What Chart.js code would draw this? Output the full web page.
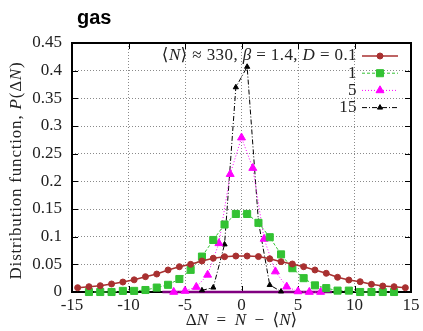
<!DOCTYPE html>
<html><head><meta charset="utf-8">
<script src="https://cdn.jsdelivr.net/npm/chart.js@4"></script>
<style>html,body{margin:0;padding:0;background:#fff}</style>
</head><body><canvas id="c" width="423" height="331"></canvas>
<script>
const SERIF = '"Liberation Serif","DejaVu Serif","DejaVu Sans",serif';
const chartTitle = 'gas';
const xTitle = 'Δ*N*\u2002=\u2002*N*\u2002−\u2002⟨*N*⟩';
const yTitle = 'Distribution function, *P*(Δ*N*)';
const seriesLabels = ['⟨*N*⟩ ≈ 330, *β* = 1.4, *D* = 0.1', '1', '5', '15'];
const xTickValues = [-15, -10, -5, 0, 5, 10, 15];
const xTickLabels = ['-15', '-10', '-5', '0', '5', '10', '15'];
const yTickValues = [0, 0.05, 0.1, 0.15, 0.2, 0.25, 0.3, 0.35, 0.4, 0.45];
const yTickLabels = ['0', '0.05', '0.1', '0.15', '0.2', '0.25', '0.3', '0.35', '0.4', '0.45'];

// D = 0.1
const xD01 = [-14.5,-13.5,-12.5,-11.5,-10.5,-9.5,-8.5,-7.5,-6.5,-5.5,-4.5,-3.5,-2.5,-1.5,-0.5,0.5,1.5,2.5,3.5,4.5,5.5,6.5,7.5,8.5,9.5,10.5,11.5,12.5,13.5,14.5];
const yD01 = [0.0078,0.0096,0.0114,0.0145,0.018,0.022,0.0277,0.0325,0.0398,0.0457,0.050,0.056,0.061,0.0638,0.065,0.065,0.064,0.060,0.0548,0.0506,0.0457,0.0398,0.0338,0.0266,0.0217,0.0186,0.0139,0.0108,0.0096,0.0078];
// D = 1
const xD1 = [-13.5,-12.5,-11.5,-10.5,-9.5,-8.5,-7.5,-6.5,-5.5,-4.5,-3.5,-2.5,-1.5,-0.5,0.5,1.5,2.5,3.5,4.5,5.5,6.5,7.5,8.5,9.5,10.5,11.5,12.5,13.5];
const yD1 = [0,0,0,0.002,0.002,0.0036,0.008,0.013,0.0235,0.04,0.064,0.094,0.122,0.141,0.141,0.125,0.099,0.068,0.043,0.025,0.012,0.007,0.0025,0.0025,0,0,0,0];
// D = 5
const xD5 = [-6,-5,-4,-3,-2,-1,0,1,2,3,4,5,6,7];
const yD5 = [0,0.002,0.009,0.031,0.088,0.213,0.279,0.224,0.096,0.037,0.0096,0.001,0,0];
// D = 15
const xD15 = [-3.5,-2.5,-1.5,-0.5,0.5,1.5,2.5,3.5];
const yD15 = [0.003,0.008,0.086,0.37,0.407,0.127,0.0126,0.001];
// baseline segment
const xBase = [-7, 8];
const yBase = [0, 0];

const pts = (xs, ys) => xs.map((x, i) => ({x, y: ys[i]}));
const plain = s => s.replace(/\*/g, '');

function drawRich(ctx, s, x, y, align, size, color, spacing) {
  const runs = s.split('*').map((t, i) => ({t, it: i % 2 === 1})).filter(r => r.t);
  const font = it => (it ? 'italic ' : '') + size + 'px ' + SERIF;
  ctx.letterSpacing = (spacing || 0) + 'px';
  let w = 0;
  runs.forEach(r => { ctx.font = font(r.it); r.w = ctx.measureText(r.t).width; w += r.w; });
  let cx = align === 'right' ? x - w : align === 'center' ? x - w / 2 : x;
  ctx.textBaseline = 'middle'; ctx.textAlign = 'left'; ctx.fillStyle = color;
  runs.forEach(r => { ctx.font = font(r.it); ctx.fillText(r.t, cx, y); cx += r.w; });
  ctx.letterSpacing = '0px';
}

const framePlugin = {
  id: 'frame',
  afterLayout(chart) {
    if (chart.titleBlock) { chart.titleBlock.left += 5; chart.titleBlock.right += 5; }
  },
  beforeDatasetsDraw(chart) {
    const {ctx, chartArea: {left, right, top, bottom}, scales: {x, y}} = chart;
    ctx.save();
    ctx.strokeStyle = '#000'; ctx.lineWidth = 1;
    ctx.beginPath();
    xTickValues.forEach(v => { const p = Math.round(x.getPixelForValue(v)) + 0.5;
      ctx.moveTo(p, bottom); ctx.lineTo(p, bottom - 6); ctx.moveTo(p, top); ctx.lineTo(p, top + 6); });
    yTickValues.forEach(v => { const p = Math.round(y.getPixelForValue(v)) + 0.5;
      ctx.moveTo(left, p); ctx.lineTo(left + 6, p); ctx.moveTo(right, p); ctx.lineTo(right - 6, p); });
    ctx.stroke();
    ctx.lineWidth = 2;
    ctx.strokeRect(left, top, right - left, bottom - top);
    ctx.restore();
  },
  afterDraw(chart) {
    const {ctx, chartArea: {left, right, top, bottom}} = chart;
    ctx.save();
    // axis titles
    drawRich(ctx, xTitle, (left + right) / 2, 321, 'center', 17, '#222', 0);
    ctx.save();
    ctx.translate(17, (top + bottom) / 2 + 3);
    ctx.rotate(-Math.PI / 2);
    drawRich(ctx, yTitle, 0, 0, 'center', 17, '#222', 0.8);
    ctx.restore();
    // legend
    chart.data.datasets.forEach((ds, i) => {
      if (i >= seriesLabels.length) return;
      const ry = top + 13 + i * 17.2;
      drawRich(ctx, seriesLabels[i], right - 54, ry, 'right', 17, '#222', 0.4);
      ctx.save();
      ctx.strokeStyle = ds.borderColor; ctx.lineWidth = ds.borderWidth;
      ctx.setLineDash(ds.borderDash || []);
      ctx.beginPath(); ctx.moveTo(right - 49, ry); ctx.lineTo(right - 13, ry); ctx.stroke();
      ctx.setLineDash([]);
      ctx.fillStyle = ds.pointBackgroundColor; ctx.strokeStyle = ds.pointBorderColor; ctx.lineWidth = 1;
      Chart.helpers.drawPoint(ctx, {pointStyle: ds.pointStyle, radius: ds.pointRadius, borderWidth: 1, rotation: 0}, right - 31, ry);
      ctx.restore();
    });
    ctx.restore();
  }
};

const ds = (label, xs, ys, color, dash, width, style, radius) => ({
  label, data: pts(xs, ys), borderColor: color, backgroundColor: color,
  pointBackgroundColor: color, pointBorderColor: color, borderWidth: width, borderDash: dash,
  pointStyle: style, pointRadius: radius, pointBorderWidth: 1, tension: 0, clip: false, showLine: true
});

new Chart(document.getElementById('c'), {
  type: 'scatter',
  data: {
    datasets: [
      ds(plain(seriesLabels[0]), xD01, yD01, '#a83030', [], 1.5, 'circle', 3),
      ds(plain(seriesLabels[1]), xD1, yD1, '#33c233', [3, 2], 1, 'rect', 5),
      ds(plain(seriesLabels[2]), xD5, yD5, '#ff00ff', [1, 2], 1, 'triangle', 4.6),
      ds(plain(seriesLabels[3]), xD15, yD15, '#000000', [5, 2, 1, 2], 1, 'triangle', 3),
      {label: 'baseline', data: pts(xBase, yBase), borderColor: '#800080', borderWidth: 2.5, pointRadius: 0, showLine: true, clip: false}
    ]
  },
  options: {
    responsive: false, animation: false,
    layout: {padding: {left: 0, right: 12, top: 0, bottom: 0}},
    plugins: {
      legend: {display: false}, tooltip: {enabled: false},
      title: {display: true, text: chartTitle, align: 'start', fullSize: false,
        font: {family: '"Liberation Sans",Arial,sans-serif', size: 20, weight: 'bold'}, color: '#000',
        padding: {top: 6, bottom: 13}}
    },
    scales: {
      x: {type: 'linear', min: -15, max: 15,
        afterBuildTicks: s => { s.ticks = xTickValues.map(v => ({value: v})); },
        afterFit: s => { s.height = 39; },
        ticks: {callback: (v, i) => xTickLabels[i], autoSkip: false, maxRotation: 0, padding: 3,
          font: {family: SERIF, size: 17}, color: '#222'},
        grid: {color: '#8a8a8a', drawTicks: false, lineWidth: 1},
        border: {display: false, dash: [1, 2]}},
      y: {type: 'linear', min: 0, max: 0.45,
        afterBuildTicks: s => { s.ticks = yTickValues.map(v => ({value: v})); },
        afterFit: s => { s.width = 72; },
        ticks: {callback: (v, i) => yTickLabels[i], autoSkip: false, padding: 10,
          font: {family: SERIF, size: 17}, color: '#222'},
        grid: {color: '#8a8a8a', drawTicks: false, lineWidth: 1},
        border: {display: false, dash: [1, 2]}}
    }
  },
  plugins: [framePlugin]
});
</script></body></html>
